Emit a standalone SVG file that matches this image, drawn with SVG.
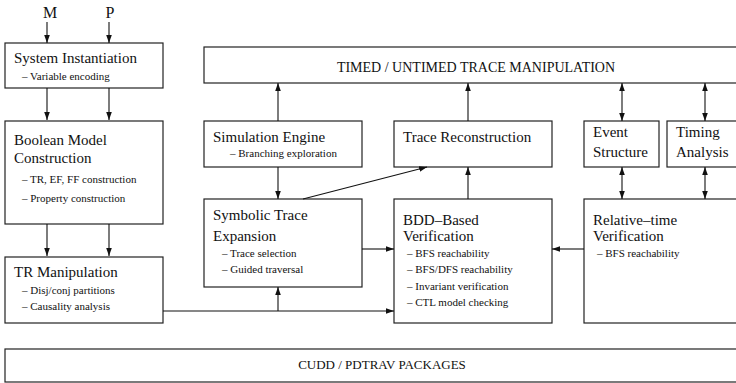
<svg xmlns="http://www.w3.org/2000/svg" width="736" height="383" viewBox="0 0 736 383">
<style>
.box{fill:#fff;stroke:#222;stroke-width:1.2}
.ln{fill:none;stroke:#111;stroke-width:1.1}
text{font-family:"Liberation Serif","Times New Roman",serif;fill:#111}
.t{font-size:15px}
.s{font-size:11px}
.c{font-size:14px;text-anchor:middle}
</style>
<defs>
<marker id="ah" viewBox="0 0 10 10" refX="10" refY="5" markerWidth="8" markerHeight="8" markerUnits="userSpaceOnUse" orient="auto-start-reverse">
<path d="M0,1.5 L10,5 L0,8.5 Z" fill="#111"/>
</marker>
</defs>
<g id="label-M"><text x="50" y="18" style="font-size:16px;text-anchor:middle">M</text></g>
<g id="label-P"><text x="110" y="18" style="font-size:16px;text-anchor:middle">P</text></g>
<g id="system-instantiation">
<rect class="box" x="5" y="43" width="158" height="45"/>
<text class="t" x="14" y="63">System Instantiation</text>
<text class="s" x="22" y="80">– Variable encoding</text>
</g>
<g id="boolean-model">
<rect class="box" x="5" y="121" width="158" height="103"/>
<text class="t" x="14" y="145">Boolean Model</text>
<text class="t" x="14" y="163">Construction</text>
<text class="s" x="22" y="183">– TR, EF, FF construction</text>
<text class="s" x="22" y="202">– Property construction</text>
</g>
<g id="tr-manipulation">
<rect class="box" x="5" y="257" width="158" height="66"/>
<text class="t" x="14" y="277">TR Manipulation</text>
<text class="s" x="22" y="294">– Disj/conj partitions</text>
<text class="s" x="22" y="310">– Causality analysis</text>
</g>
<g id="cudd">
<rect class="box" x="5" y="349" width="745" height="33"/>
<text class="c" x="382" y="369" style="font-size:13px">CUDD / PDTRAV PACKAGES</text>
</g>
<g id="timed-untimed">
<rect class="box" x="204" y="47" width="545" height="36"/>
<text class="c" x="476" y="72">TIMED / UNTIMED TRACE MANIPULATION</text>
</g>
<g id="simulation-engine">
<rect class="box" x="204" y="121" width="158" height="46"/>
<text class="t" x="213" y="142">Simulation Engine</text>
<text class="s" x="230" y="157">– Branching exploration</text>
</g>
<g id="trace-reconstruction">
<rect class="box" x="394" y="121" width="158" height="46"/>
<text class="t" x="403" y="142">Trace Reconstruction</text>
</g>
<g id="event-structure">
<rect class="box" x="584" y="121" width="75" height="46"/>
<text class="t" x="593" y="137">Event</text>
<text class="t" x="593" y="157">Structure</text>
</g>
<g id="timing-analysis">
<rect class="box" x="667" y="121" width="80" height="46"/>
<text class="t" x="676" y="137">Timing</text>
<text class="t" x="676" y="157">Analysis</text>
</g>
<g id="symbolic-trace">
<rect class="box" x="204" y="199" width="158" height="88"/>
<text class="t" x="213" y="220">Symbolic Trace</text>
<text class="t" x="213" y="241">Expansion</text>
<text class="s" x="222" y="257">– Trace selection</text>
<text class="s" x="222" y="273">– Guided traversal</text>
</g>
<g id="bdd-verification">
<rect class="box" x="394" y="199" width="158" height="124"/>
<text class="t" x="403" y="225">BDD–Based</text>
<text class="t" x="403" y="241">Verification</text>
<text class="s" x="407" y="257">– BFS reachability</text>
<text class="s" x="407" y="273">– BFS/DFS reachability</text>
<text class="s" x="407" y="290">– Invariant verification</text>
<text class="s" x="407" y="306">– CTL model checking</text>
</g>
<g id="relative-time">
<rect class="box" x="584" y="199" width="165" height="124"/>
<text class="t" x="593" y="225">Relative–time</text>
<text class="t" x="593" y="241">Verification</text>
<text class="s" x="597" y="257">– BFS reachability</text>
</g>
<g id="connectors">
<line class="ln" x1="47" y1="22" x2="47" y2="43" marker-end="url(#ah)"/>
<line class="ln" x1="109" y1="22" x2="109" y2="43" marker-end="url(#ah)"/>
<line class="ln" x1="47" y1="88" x2="47" y2="120" marker-end="url(#ah)"/>
<line class="ln" x1="109" y1="88" x2="109" y2="120" marker-end="url(#ah)"/>
<line class="ln" x1="47" y1="224" x2="47" y2="256" marker-end="url(#ah)"/>
<line class="ln" x1="109" y1="224" x2="109" y2="256" marker-end="url(#ah)"/>
<line class="ln" x1="278" y1="121" x2="278" y2="83" marker-end="url(#ah)"/>
<line class="ln" x1="278" y1="167" x2="278" y2="199" marker-end="url(#ah)"/>
<line class="ln" x1="468" y1="121" x2="468" y2="83" marker-end="url(#ah)"/>
<line class="ln" x1="468" y1="199" x2="468" y2="167" marker-end="url(#ah)"/>
<line class="ln" x1="303" y1="199" x2="427" y2="167" marker-end="url(#ah)"/>
<line class="ln" x1="622" y1="83" x2="622" y2="121" marker-start="url(#ah)" marker-end="url(#ah)"/>
<line class="ln" x1="622" y1="167" x2="622" y2="199" marker-start="url(#ah)" marker-end="url(#ah)"/>
<line class="ln" x1="705" y1="83" x2="705" y2="121" marker-start="url(#ah)" marker-end="url(#ah)"/>
<line class="ln" x1="705" y1="167" x2="705" y2="199" marker-start="url(#ah)" marker-end="url(#ah)"/>
<line class="ln" x1="362" y1="249" x2="394" y2="249" marker-end="url(#ah)"/>
<line class="ln" x1="584" y1="249" x2="552" y2="249" marker-end="url(#ah)"/>
<line class="ln" x1="163" y1="311" x2="394" y2="311" marker-end="url(#ah)"/>
<line class="ln" x1="278" y1="311" x2="278" y2="287" marker-end="url(#ah)"/>
</g>
</svg>
